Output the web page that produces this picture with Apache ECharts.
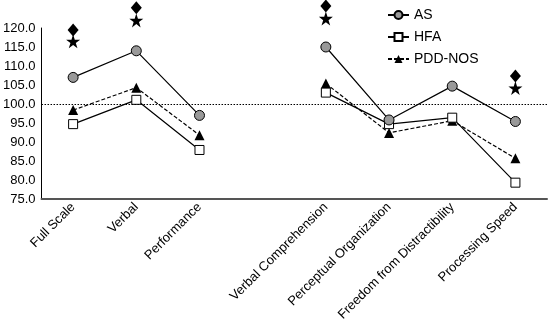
<!DOCTYPE html>
<html>
<head>
<meta charset="utf-8">
<script src="https://cdn.jsdelivr.net/npm/echarts@6/dist/echarts.min.js"></script>
<style>html,body{margin:0;padding:0;background:#fff}#c{width:553px;height:328px}</style>
</head>
<body>
<div id="c"></div>
<script>
const categories = ['Full Scale', 'Verbal', 'Performance', '', 'Verbal Comprehension', 'Perceptual Organization', 'Freedom from Distractibility', 'Processing Speed'];
const asValues = [107.0, 114.0, 97.0, null, 115.0, 95.8, 104.7, 95.4];
const hfaValues = [94.7, 101.1, 87.9, null, 103.0, 94.7, 96.4, 79.3];
const pddValues = [98.4, 104.3, 91.8, null, 105.4, 92.4, 95.6, 85.7];
const diamondMarks = [119.5, 125.3, null, null, 125.8, null, null, 107.4];
const starMarks = [116.5, 122.0, null, null, 122.5, null, null, 104.2];
const yTicks = { min: 75, max: 120, step: 5 };
const refValue = 100;

const starPath = 'path://M50,0 L61.2,34.5 L97.6,34.5 L68.2,55.9 L79.4,90.5 L50,69.1 L20.6,90.5 L31.8,55.9 L2.4,34.5 L38.8,34.5 Z';
const font = 'Liberation Sans';

const chart = echarts.init(document.getElementById('c'), null, { renderer: 'canvas' });
chart.setOption({
  animation: false,
  textStyle: { fontFamily: font },
  grid: { left: 40, right: 6, top: 28, bottom: 129 },
  legend: {
    orient: 'vertical',
    left: 382,
    top: 3,
    itemWidth: 21,
    itemHeight: 10,
    itemGap: 8,
    textStyle: { fontFamily: font, fontSize: 14, color: '#000' },
    data: ['AS', 'HFA', 'PDD-NOS']
  },
  xAxis: {
    type: 'category',
    data: categories,
    boundaryGap: true,
    axisLine: { lineStyle: { color: '#555', width: 2 } },
    axisTick: { show: false },
    axisLabel: { interval: 0, rotate: 45, fontFamily: font, fontSize: 13, color: '#000', margin: 6 }
  },
  yAxis: {
    type: 'value',
    min: yTicks.min,
    max: yTicks.max,
    interval: yTicks.step,
    axisLine: { show: true, lineStyle: { color: '#000', width: 1 } },
    axisTick: { show: false },
    splitLine: { show: false },
    axisLabel: { fontFamily: font, fontSize: 13, color: '#000', margin: 6, formatter: v => v.toFixed(1) }
  },
  series: [
    {
      name: 'AS', type: 'line', data: asValues, connectNulls: false,
      symbol: 'circle', symbolSize: 10,
      itemStyle: { color: '#999', borderColor: '#000', borderWidth: 1 },
      lineStyle: { color: '#000', width: 1.2 },
      markLine: {
        silent: true, symbol: 'none', label: { show: false },
        lineStyle: { color: '#000', type: [1.5, 1.5], width: 1.2 },
        data: [{ yAxis: refValue }]
      },
      z: 5
    },
    {
      name: 'HFA', type: 'line', data: hfaValues, connectNulls: false,
      symbol: 'rect', symbolSize: 9,
      itemStyle: { color: '#fff', borderColor: '#000', borderWidth: 1 },
      lineStyle: { color: '#000', width: 1.2 },
      z: 4
    },
    {
      name: 'PDD-NOS', type: 'line', data: pddValues, connectNulls: false,
      symbol: 'triangle', symbolSize: 10,
      itemStyle: { color: '#000', borderColor: '#000', borderWidth: 0 },
      lineStyle: { color: '#000', width: 1.2, type: [4, 2] },
      z: 3
    },
    {
      name: 'diamond', type: 'scatter', data: diamondMarks, clip: false,
      symbol: 'diamond', symbolSize: [11, 13],
      itemStyle: { color: '#000', opacity: 1 }
    },
    {
      name: 'star', type: 'scatter', data: starMarks, clip: false,
      symbol: starPath, symbolSize: 14,
      itemStyle: { color: '#000', opacity: 1 }
    }
  ]
});
</script>
</body>
</html>
